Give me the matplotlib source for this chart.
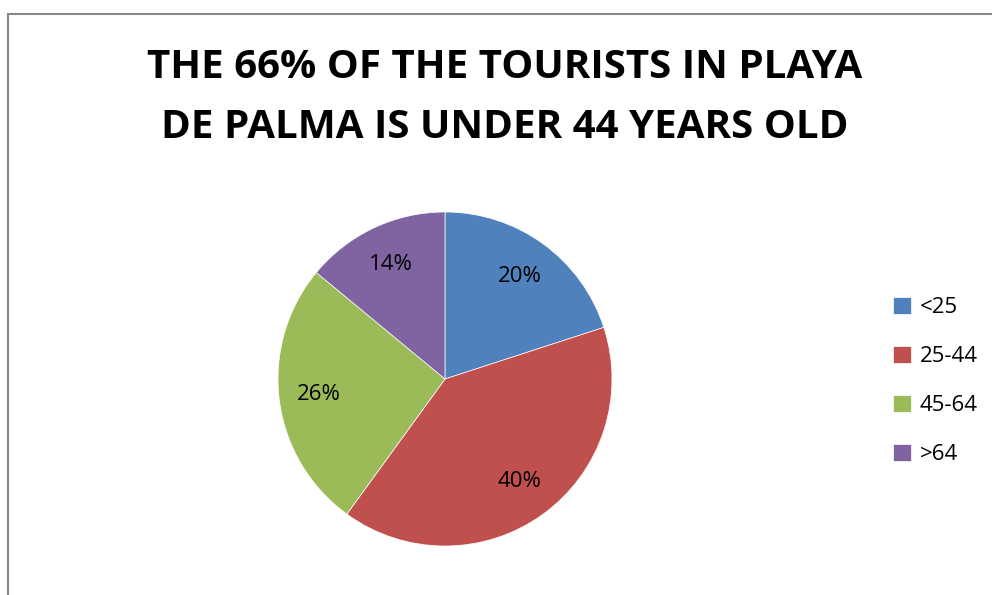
import matplotlib.pyplot as plt
from matplotlib.patches import Rectangle

##############################################################################

labels = ['<25', '25-44', '45-64', '>64']
shares = [20, 40, 26, 14]
colors = ['#4F81BD', '#C0504D', '#9BBB59', '#8064A2']
title = 'THE 66% OF THE TOURISTS IN PLAYA\nDE PALMA IS UNDER 44 YEARS OLD'

##############################################################################

plt.rcParams['font.family'] = ['Open Sans', 'DejaVu Sans']

fig = plt.figure(figsize=(9.92, 5.95), dpi=100)

# chart area border (runs off the right and bottom edges)
fig.patches.append(Rectangle((8 / 992, -0.05), 1.0, 0.05 + 581 / 595,
                             transform=fig.transFigure, fill=False,
                             edgecolor='#878787', linewidth=1.5))

ax = fig.add_axes([278 / 992, 49 / 595, 334 / 992, 334 / 595])
wedges, texts = ax.pie(shares, colors=colors, startangle=90, counterclock=False,
                       labels=['{}%'.format(s) for s in shares],
                       labeldistance=0.76,
                       wedgeprops=dict(edgecolor='white', linewidth=0.5),
                       textprops=dict(fontsize=16, color='black'))
for t in texts:
    t.set_horizontalalignment('center')
    t.set_verticalalignment('center')
ax.set_xlim(-1, 1)
ax.set_ylim(-1, 1)
ax.set_aspect('equal')

fig.text(505 / 992, 1 - 97 / 595, title, ha='center', va='center',
         fontsize=29, fontweight='bold', linespacing=1.7)

fig.legend(wedges, labels, loc='center left',
           bbox_to_anchor=(873 / 992, 1 - 381 / 595),
           frameon=False, fontsize=16, handlelength=0.8, handleheight=0.8,
           labelspacing=1.25, handletextpad=0.4)

fig.savefig('out.png', dpi=100)
plt.close()
